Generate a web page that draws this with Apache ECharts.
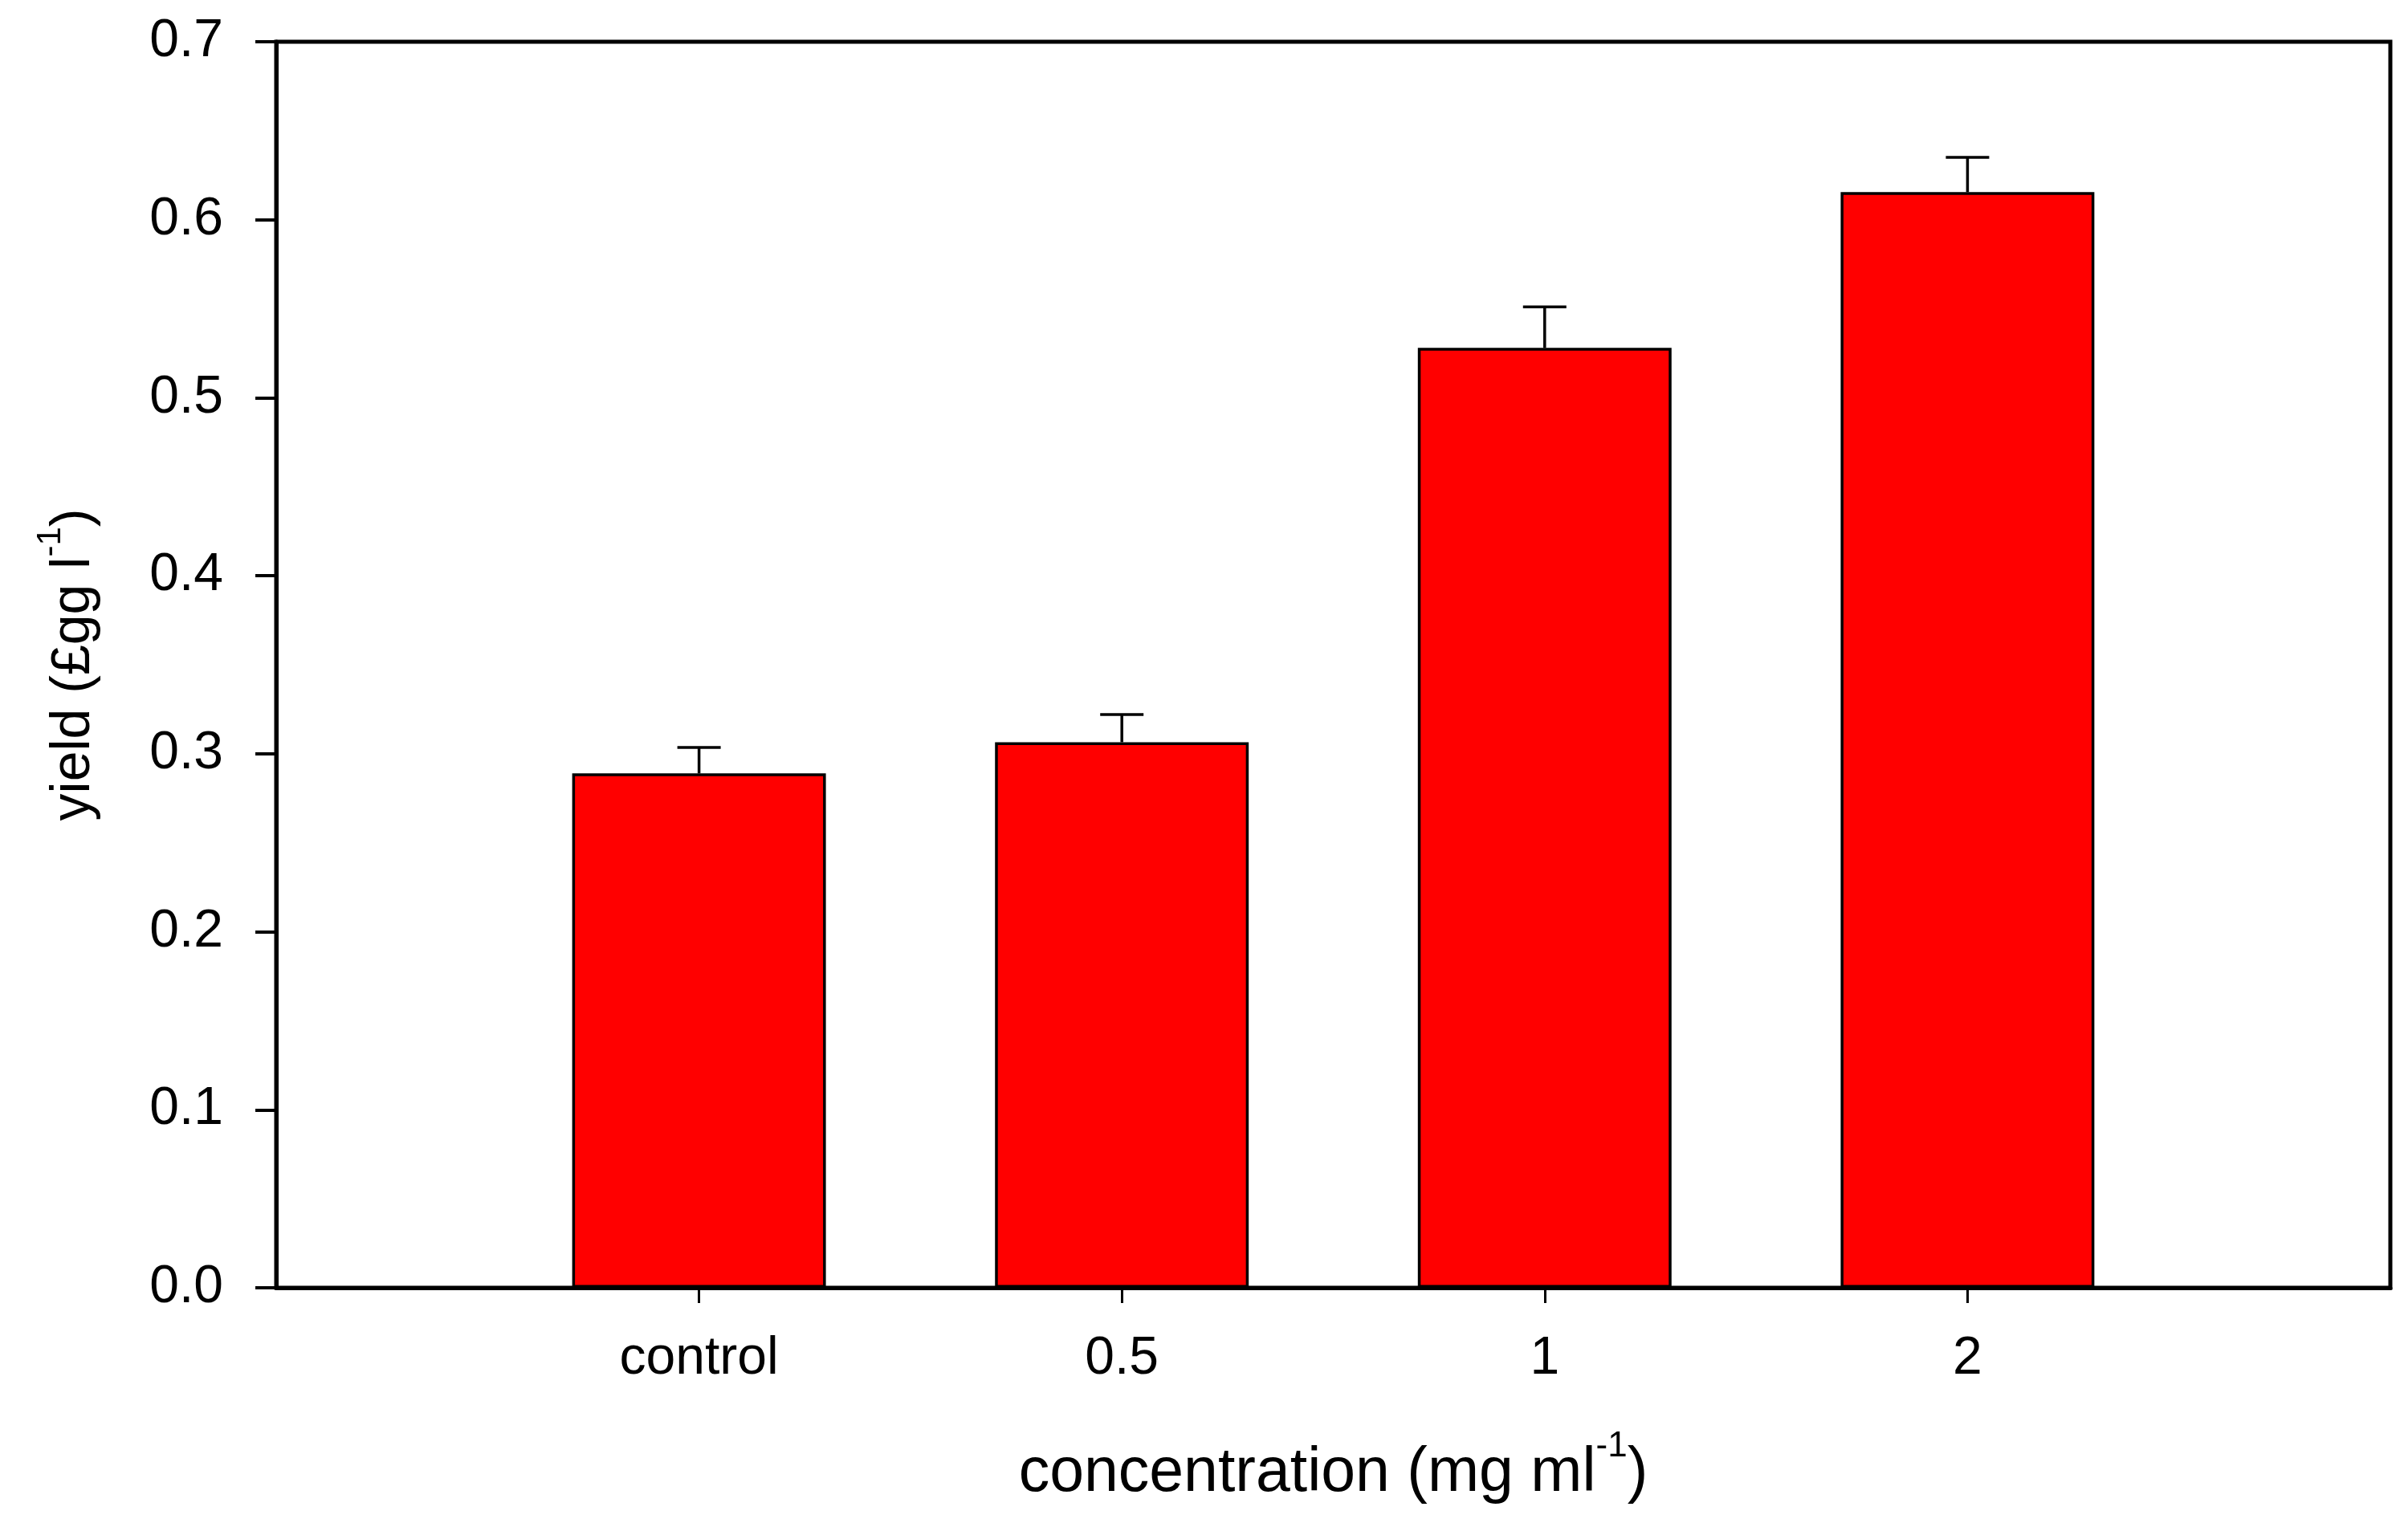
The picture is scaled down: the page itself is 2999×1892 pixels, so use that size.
<!DOCTYPE html>
<html>
<head>
<meta charset="utf-8">
<script src="https://cdn.jsdelivr.net/npm/echarts@6/dist/echarts.min.js"></script>
<style>
html,body{margin:0;padding:0;background:#fff;}
#chart{width:2999px;height:1892px;}
</style>
</head>
<body>
<div id="chart"></div>
<script>
// ---- data ----
const categories = ['control', '0.5', '1', '2'];
const yieldValues = [0.289, 0.3065, 0.528, 0.6155];
const errorValues = [0.0146, 0.0155, 0.023, 0.0195];
const yTicks = [0.0, 0.1, 0.2, 0.3, 0.4, 0.5, 0.6, 0.7];

// padded category axis: empty slot at each end
const axisCats = [''].concat(categories, ['']);
const barData = [null].concat(yieldValues, [null]);
const errData = categories.map((c, i) => [i + 1, yieldValues[i], yieldValues[i] + errorValues[i]]);

const FONT = '"Liberation Sans", Arial, Helvetica, sans-serif';

const chart = echarts.init(document.getElementById('chart'), null, {renderer: 'canvas'});
chart.setOption({
  backgroundColor: '#ffffff',
  animation: false,
  grid: {
    left: 344, right: 22, top: 52, bottom: 288,
    show: true, borderColor: '#000', borderWidth: 5, backgroundColor: 'transparent'
  },
  xAxis: {
    type: 'category',
    data: axisCats,
    boundaryGap: false,
    name: '{m|concentration (mg ml}{s|-1}{m|)}',
    nameLocation: 'middle',
    nameGap: 176,
    nameTextStyle: {
      fontFamily: FONT, color: '#000', fontSize: 77,
      rich: {
        m: {fontFamily: FONT, fontSize: 77, color: '#000', lineHeight: 94, verticalAlign: 'bottom'},
        s: {fontFamily: FONT, fontSize: 44, color: '#000', verticalAlign: 'top', lineHeight: 44}
      }
    },
    axisLine: {show: true, lineStyle: {color: '#000', width: 5}},
    axisTick: {
      show: true, inside: false, length: 19,
      lineStyle: {color: '#000', width: 3},
      interval: (idx) => idx >= 1 && idx <= categories.length
    },
    axisLabel: {
      interval: 0, margin: 56, color: '#000', fontSize: 66, fontFamily: FONT
    },
    splitLine: {show: false}
  },
  yAxis: {
    type: 'value',
    min: yTicks[0], max: yTicks[yTicks.length - 1], interval: 0.1,
    name: '{m|yield (£gg l}{s|-1}{m|)}',
    nameLocation: 'middle',
    nameGap: 218,
    nameRotate: 90,
    nameTextStyle: {
      fontFamily: FONT, color: '#000', fontSize: 68,
      rich: {
        m: {fontFamily: FONT, fontSize: 68, color: '#000', lineHeight: 84, verticalAlign: 'bottom'},
        s: {fontFamily: FONT, fontSize: 42, color: '#000', verticalAlign: 'top', lineHeight: 42}
      }
    },
    axisLine: {show: true, lineStyle: {color: '#000', width: 5}},
    axisTick: {show: true, inside: false, length: 26, lineStyle: {color: '#000', width: 4}},
    axisLabel: {
      margin: 66, color: '#000', fontSize: 66, fontFamily: FONT,
      formatter: (v) => v.toFixed(1)
    },
    splitLine: {show: false}
  },
  series: [
    {
      type: 'bar',
      data: barData,
      barWidth: '60%',
      itemStyle: {color: '#ff0000', borderColor: '#000', borderWidth: 3.5},
      z: 2
    },
    {
      type: 'custom',
      data: errData,
      z: 3,
      renderItem: function (params, api) {
        const x = api.value(0);
        const base = api.coord([x, api.value(1)]);
        const top = api.coord([x, api.value(2)]);
        const half = 27;
        const st = {stroke: '#000', lineWidth: 3.5, fill: null};
        return {
          type: 'group',
          children: [
            {type: 'line', shape: {x1: base[0], y1: base[1], x2: top[0], y2: top[1]}, style: st},
            {type: 'line', shape: {x1: top[0] - half, y1: top[1], x2: top[0] + half, y2: top[1]}, style: st}
          ]
        };
      }
    }
  ]
});
</script>
</body>
</html>
